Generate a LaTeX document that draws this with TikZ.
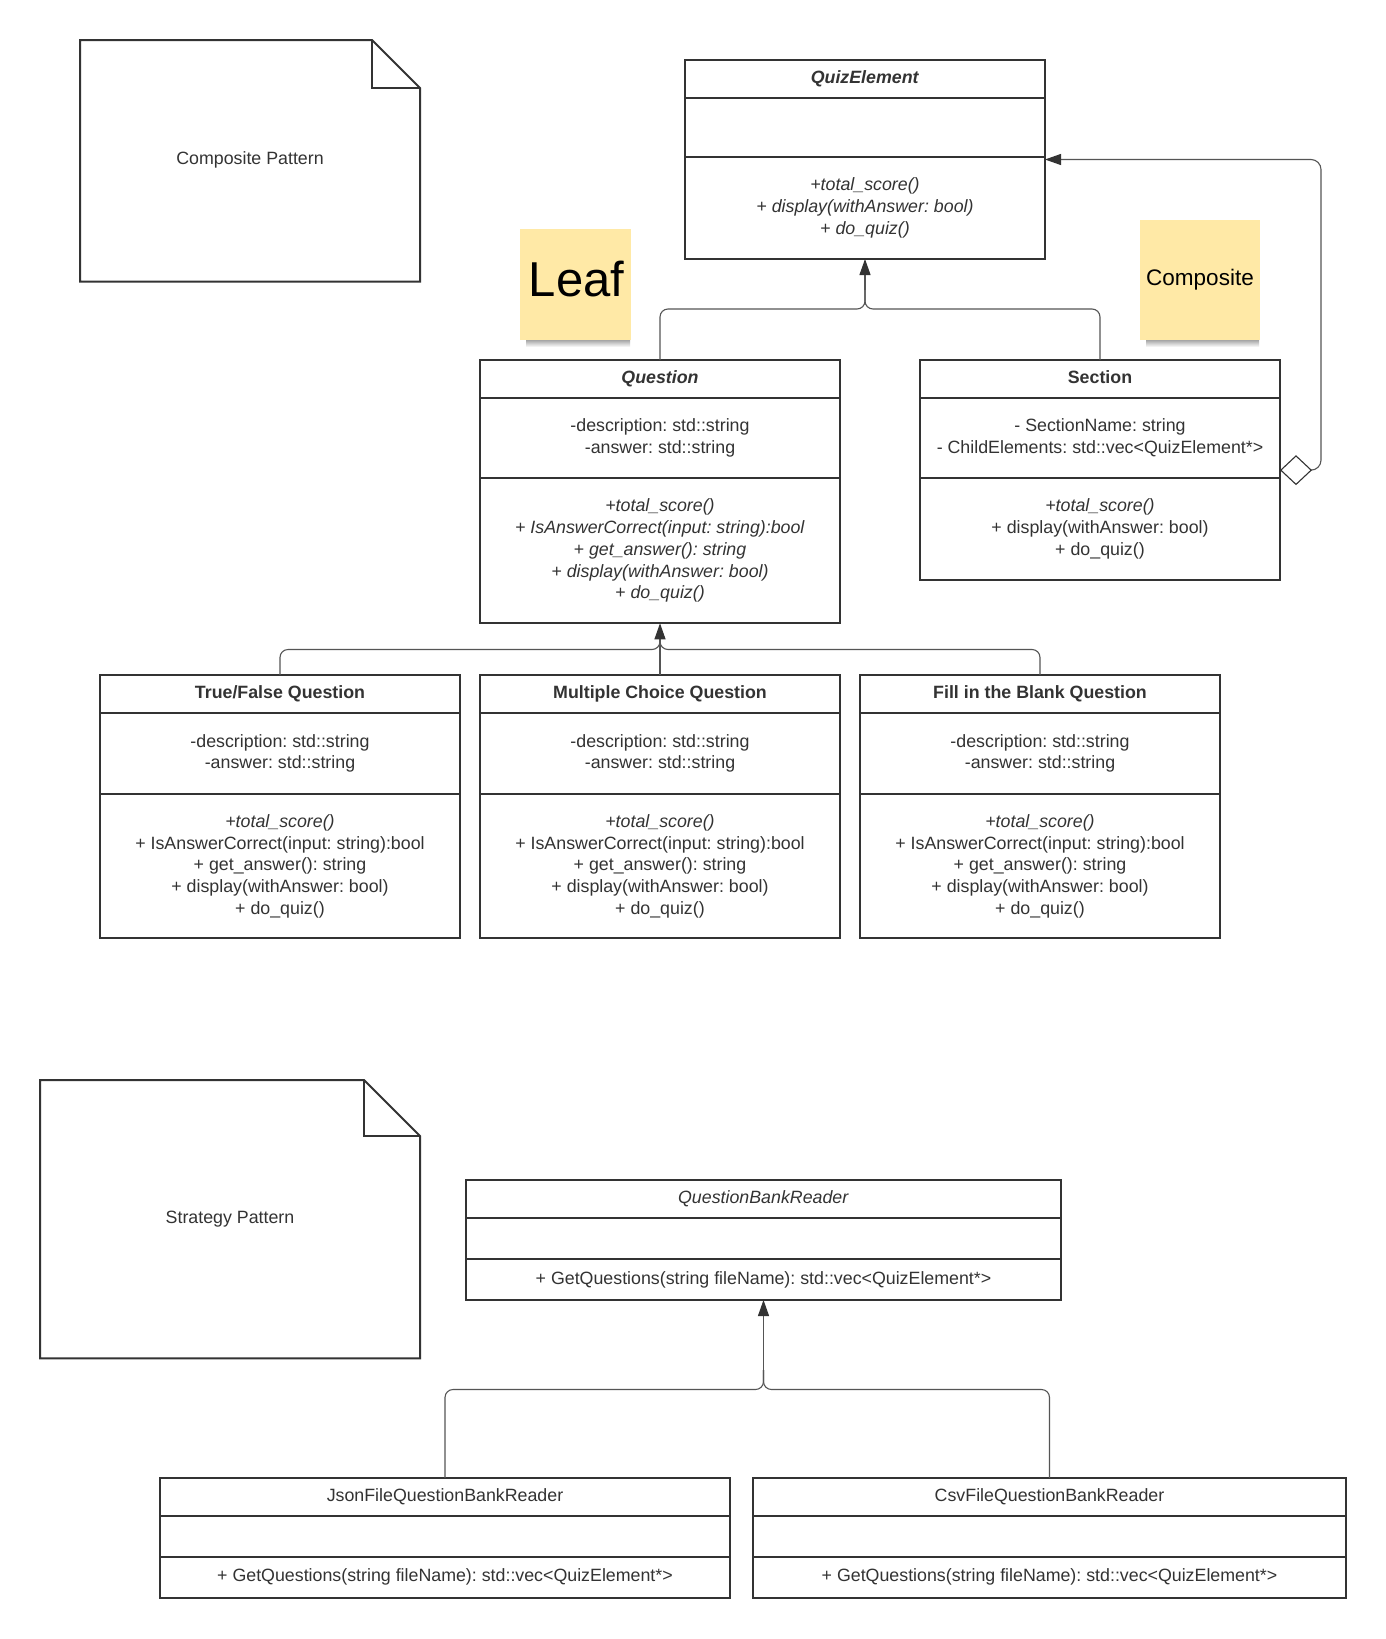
\documentclass[tikz,border=0pt]{standalone}
\usepackage{fontspec}
\setmainfont{Liberation Sans}
\usetikzlibrary{arrows.meta,calc}
\definecolor{ink}{HTML}{333333}
\definecolor{connc}{HTML}{555555}
\definecolor{stickyc}{HTML}{FFE9A6}
\frenchspacing
\newcommand{\bodyfont}{\fontsize{17.8pt}{21.7pt}\selectfont}
\newcommand{\umlframe}[7]{%
  \node[classbox, minimum width={#3-#2}, minimum height={#7-#4}, anchor=north west] (#1) at (#2,#4) {};
  \draw[boxline] (#2,#5) -- (#3,#5) (#2,#6) -- (#3,#6);}
\tikzset{
  boxline/.style={draw=ink, line width=2pt},
  classbox/.style={draw=ink, line width=2pt, fill=white, inner sep=0pt, outer sep=0pt, rectangle},
  conn/.style={draw=connc, line width=1.1pt, rounded corners=10pt},
  junction/.style={draw=connc, line width=1.1pt, rounded corners=8pt},
  gentip/.style={-{Triangle[length=16pt,width=11pt,color=ink]}},
  txt/.style={text=ink, font=\bodyfont, align=center, inner sep=0pt},
  titletxt/.style={txt, text height=13pt, text depth=4pt},
  stickybox/.style={fill=stickyc, inner sep=0pt, outer sep=0pt, anchor=north west},
}
\begin{document}
\begin{tikzpicture}[x=1pt,y=-1pt]
\fill[white] (0,0) rectangle (1386,1639);
\useasboundingbox (0,0) rectangle (1386,1639);

% ---------- notes ----------
\draw[boxline, fill=white] (80,40) -- (372,40) -- (420,88) -- (420,281.7) -- (80,281.7) -- cycle;
\draw[boxline] (372,40) -- (372,88) -- (420,88);
\node[txt] (compnote) at (250,159.5) {Composite Pattern};

\draw[boxline, fill=white] (40,1080) -- (364,1080) -- (420,1136) -- (420,1358.3) -- (40,1358.3) -- cycle;
\draw[boxline] (364,1080) -- (364,1136) -- (420,1136);
\node[txt] (stratnote) at (230,1218.8) {Strategy Pattern};

% ---------- sticky notes ----------
\shade[top color=black!35, bottom color=white] (526,340) rectangle (630,347);
\node[stickybox, minimum width=111pt, minimum height=111pt] (leafbox) at (520,229) {};
\node[anchor=base, inner sep=0pt, font=\fontsize{49pt}{55pt}\selectfont] (leaftext) at (576.5,296) {Leaf};

\shade[top color=black!35, bottom color=white] (1146,340) rectangle (1259,347);
\node[stickybox, minimum width=120pt, minimum height=120pt] (compbox) at (1140,220) {};
\node[anchor=base, inner sep=0pt, font=\fontsize{22.5pt}{26pt}\selectfont] (comptext) at (1200,285) {Composite};

% ---------- class frames ----------
\umlframe{quiz}{685}{1045}{60}{97.7}{157}{259}
\umlframe{question}{480}{840}{360}{398}{478}{623.3}
\umlframe{section}{920}{1280}{360}{398}{477.7}{580.3}
\umlframe{tf}{100}{460}{675}{712.7}{794}{938.3}
\umlframe{mc}{480}{840}{675}{712.7}{794}{938.3}
\umlframe{fib}{860}{1220}{675}{712.7}{794}{938.3}
\umlframe{qbr}{466}{1061}{1180}{1218}{1259}{1300}
\umlframe{json}{160}{730}{1478}{1516}{1557}{1597.5}
\umlframe{csv}{753}{1346}{1478}{1516}{1557}{1597.5}

% ---------- class texts ----------
\node[titletxt] (quiz-t) at (865,78.9) {\textbf{\textit{QuizElement}}};
\node[txt] (quiz-m) at (865,208) {\textit{+total\_score()}\\\textit{+ display(withAnswer: bool)}\\\textit{+ do\_quiz()}};

\node[titletxt] (question-t) at (660,379) {\textbf{\textit{Question}}};
\node[txt] (question-a) at (660,438) {-description: std::string\\-answer: std::string};
\node[txt] (question-m) at (660,550.7) {\textit{+total\_score()}\\\textit{+ IsAnswerCorrect(input: string):bool}\\\textit{+ get\_answer(): string}\\\textit{+ display(withAnswer: bool)}\\\textit{+ do\_quiz()}};

\node[titletxt] (section-t) at (1100,379) {\textbf{Section}};
\node[txt] (section-a) at (1100,437.9) {- SectionName: string\\- ChildElements: std::vec\textless QuizElement*\textgreater};
\node[txt] (section-m) at (1100,529) {\textit{+total\_score()}\\+ display(withAnswer: bool)\\+ do\_quiz()};

\node[titletxt] (tf-t) at (280,693.9) {\textbf{True/False Question}};
\node[txt] (tf-a) at (280,753.4) {-description: std::string\\-answer: std::string};
\node[txt] (tf-m) at (280,866.2) {\textit{+total\_score()}\\+ IsAnswerCorrect(input: string):bool\\+ get\_answer(): string\\+ display(withAnswer: bool)\\+ do\_quiz()};

\node[titletxt] (mc-t) at (660,693.9) {\textbf{Multiple Choice Question}};
\node[txt] (mc-a) at (660,753.4) {-description: std::string\\-answer: std::string};
\node[txt] (mc-m) at (660,866.2) {\textit{+total\_score()}\\+ IsAnswerCorrect(input: string):bool\\+ get\_answer(): string\\+ display(withAnswer: bool)\\+ do\_quiz()};

\node[titletxt] (fib-t) at (1040,693.9) {\textbf{Fill in the Blank Question}};
\node[txt] (fib-a) at (1040,753.4) {-description: std::string\\-answer: std::string};
\node[txt] (fib-m) at (1040,866.2) {\textit{+total\_score()}\\+ IsAnswerCorrect(input: string):bool\\+ get\_answer(): string\\+ display(withAnswer: bool)\\+ do\_quiz()};

\node[titletxt] (qbr-t) at (763.5,1199) {\textit{QuestionBankReader}};
\node[titletxt] (qbr-m) at (763.5,1279.5) {+ GetQuestions(string fileName): std::vec\textless QuizElement*\textgreater};

\node[titletxt] (json-t) at (445,1497) {JsonFileQuestionBankReader};
\node[titletxt] (json-m) at (445,1577) {+ GetQuestions(string fileName): std::vec\textless QuizElement*\textgreater};

\node[titletxt] (csv-t) at (1049.5,1497) {CsvFileQuestionBankReader};
\node[titletxt] (csv-m) at (1049.5,1577) {+ GetQuestions(string fileName): std::vec\textless QuizElement*\textgreater};

% ---------- connectors ----------
\coordinate (j1) at (865,309);
\coordinate (j1up) at (865,290);
\coordinate (j2) at (660,649.5);
\coordinate (j2up) at (660,634);
\coordinate (j3) at (763.5,1389.5);
\coordinate (j3up) at (763.5,1370);
\coordinate (aggx) at (1321,300);

\draw[junction] (question.north) |- (j1) -- (j1up);
\draw[junction] (section.north) |- (j1) -- (j1up);
\draw[conn, gentip] (j1up) -- (quiz.south);

\draw[junction] (tf.north) |- (j2) -- (j2up);
\draw[junction] (fib.north) |- (j2) -- (j2up);
\draw[conn, gentip] (mc.north) -- (question.south);

\draw[junction] (json.north) |- (j3) -- (j3up);
\draw[junction] (csv.north) |- (j3) -- (j3up);
\draw[conn, gentip] (j3up) -- (qbr.south);

\draw[conn, {Diamond[open,length=32pt,width=30pt,color=ink]}-{Triangle[length=16pt,width=11pt,color=ink]}]
  (section.east) -- (section.east -| aggx) |- (quiz.east);
\end{tikzpicture}
\end{document}
